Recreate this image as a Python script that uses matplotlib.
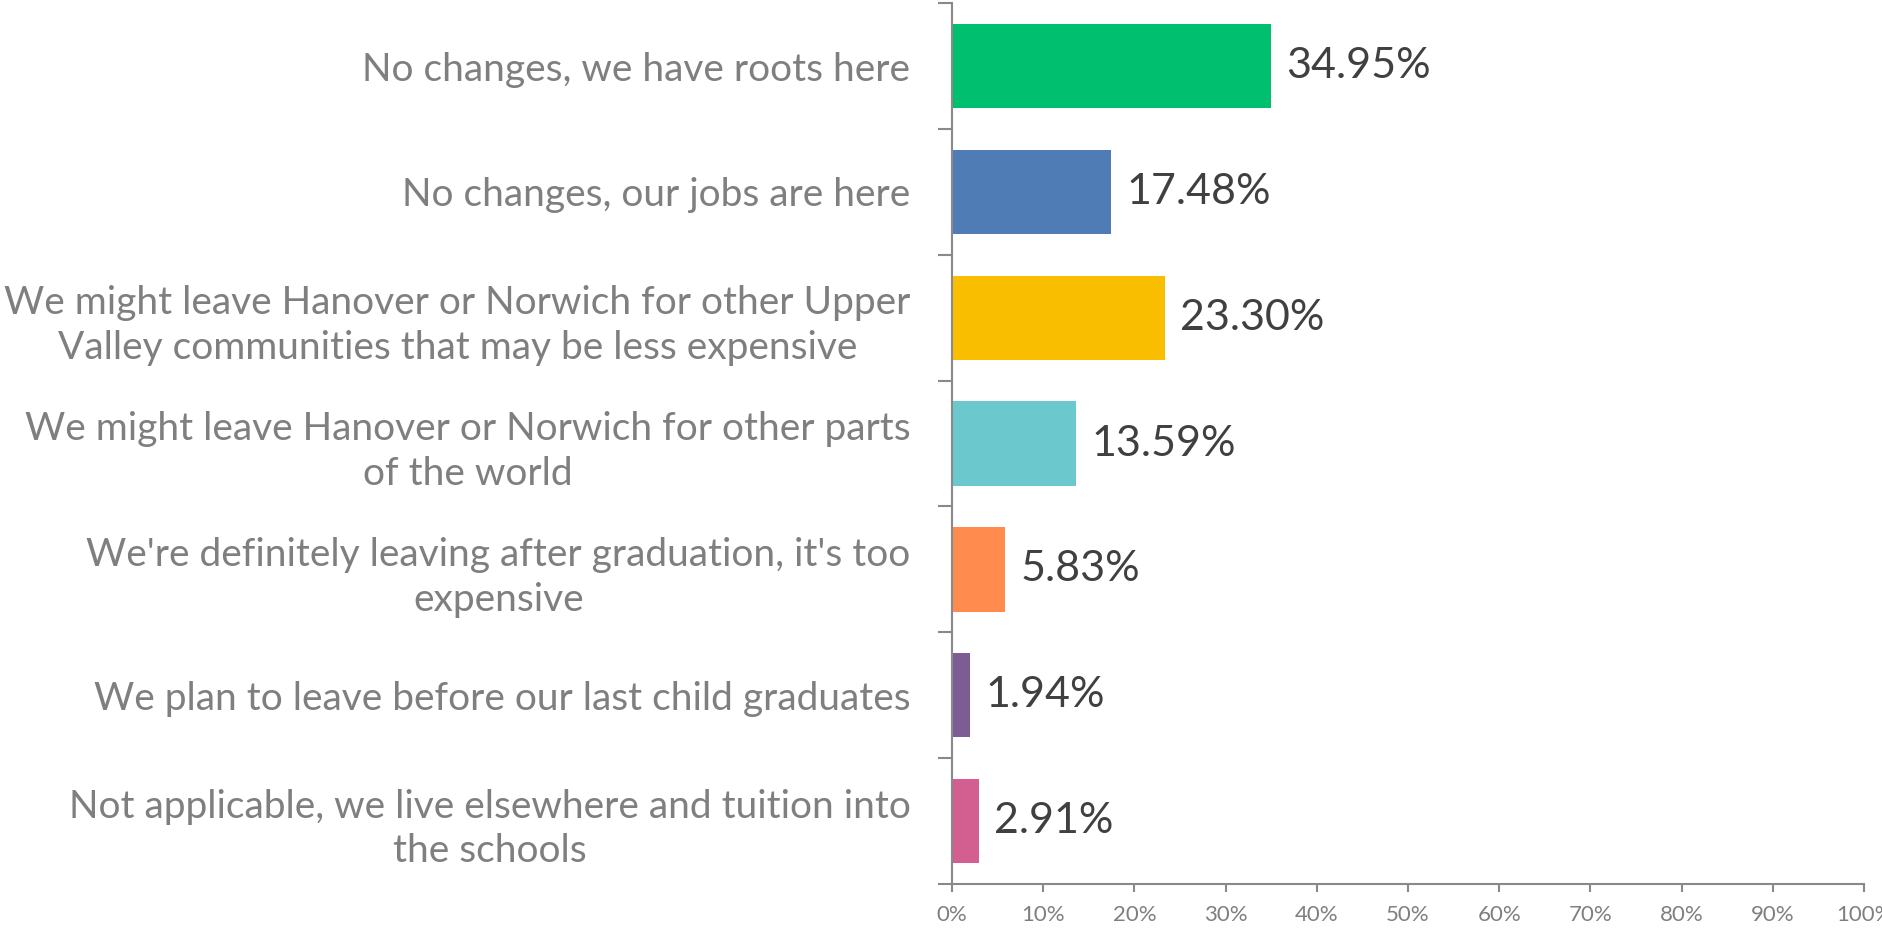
import matplotlib.pyplot as plt
from matplotlib.ticker import FixedLocator, MultipleLocator, PercentFormatter

# answers, top to bottom (line breaks as in the source chart)
categories = [
    "No changes, we have roots here",
    "No changes, our jobs are here",
    "We might leave Hanover or Norwich for other Upper\nValley communities that may be less expensive",
    "We might leave Hanover or Norwich for other parts\nof the world",
    "We're definitely leaving after graduation, it's too\nexpensive",
    "We plan to leave before our last child graduates",
    "Not applicable, we live elsewhere and tuition into\nthe schools",
]
shares = [34.95, 17.48, 23.30, 13.59, 5.83, 1.94, 2.91]
colors = ["#00BF6F", "#507CB6", "#F9BE00", "#6BC8CD", "#FF8B4F", "#7D5C94", "#D25F90"]

plt.rcParams['font.family'] = ['Lato', 'DejaVu Sans']
axis_grey = "#898989"

fig = plt.figure(figsize=(18.83, 9.35), dpi=100)
ax = fig.add_axes([0.5056, 0.0545, 0.4843, 0.9422])

pos = list(range(len(categories)))
ax.barh(pos, shares, height=0.67, color=colors)

for y, v in zip(pos, shares):
    ax.annotate(f"{v:.2f}%", xy=(v, y), xytext=(11, 0), textcoords='offset points',
                va='center', ha='left', fontsize=31, color="#404040")

ax.set_xlim(0, 100)
ax.set_ylim(len(categories) - 0.5, -0.5)

ax.xaxis.set_major_locator(MultipleLocator(10))
ax.xaxis.set_major_formatter(PercentFormatter(decimals=0))
ax.tick_params(axis='x', direction='out', length=6, width=1.5, color=axis_grey,
               labelsize=16, labelcolor="#7f7f7f", pad=9)

ax.set_yticks(pos)
ax.set_yticklabels(categories, fontsize=28, color="#7f7f7f", linespacing=1.3)
ax.yaxis.set_minor_locator(FixedLocator([p - 0.5 for p in pos] + [pos[-1] + 0.5]))
ax.tick_params(axis='y', which='major', length=0, pad=30)
ax.tick_params(axis='y', which='minor', direction='out', length=10, width=1.5, color=axis_grey)
for lbl in ax.get_yticklabels():
    lbl.set_horizontalalignment('right')
    lbl.set_multialignment('center')

for side in ['top', 'right']:
    ax.spines[side].set_visible(False)
for side in ['left', 'bottom']:
    ax.spines[side].set_color(axis_grey)
    ax.spines[side].set_linewidth(1.5)

fig.savefig("out.png", dpi=100)
